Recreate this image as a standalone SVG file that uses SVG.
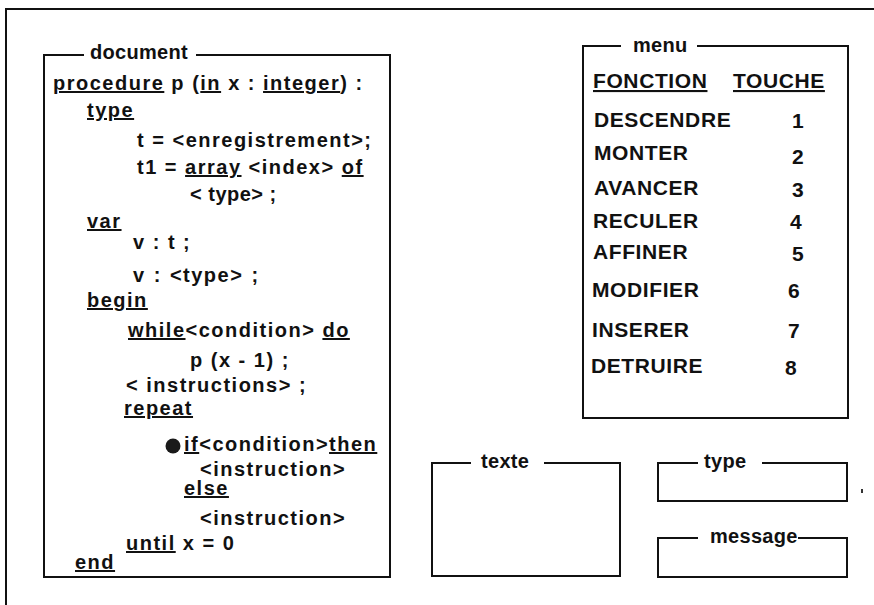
<svg xmlns="http://www.w3.org/2000/svg" width="874" height="605" viewBox="0 0 874 605">
  <style>
    text { font-family: "Liberation Sans", Arial, sans-serif; font-weight: bold; fill: #111; }
    .code { font-size: 20px; letter-spacing: 1.5px; }
    .title { font-size: 20px; letter-spacing: 0.3px; }
    .menu { font-size: 21px; letter-spacing: 0.6px; }
    .u { text-decoration: underline; text-decoration-thickness: 2px; text-underline-offset: 4px; }
    .edge { fill: none; stroke: #111; stroke-width: 2; stroke-linecap: square; stroke-linejoin: miter; }
  </style>

  <rect width="874" height="605" fill="#fff"/>

  <!-- outer screen frame (only top and left edges are in view) -->
  <g id="frame">
    <path class="edge" d="M6 605 V9 H874"/>
    <rect x="861" y="489" width="2" height="4" fill="#333"/>
  </g>

  <!-- document window -->
  <g id="document">
    <path class="edge" d="M83 55 H44 V577 H390 V55 H197"/>
    <text class="title" x="90" y="59">document</text>

    <text class="code" x="53" y="90"><tspan class="u">procedure</tspan> p (<tspan class="u">in</tspan> x : <tspan class="u">integer</tspan>) :</text>
    <text class="code" x="87" y="117"><tspan class="u">type</tspan></text>
    <text class="code" x="137" y="147">t = &lt;enregistrement&gt;;</text>
    <text class="code" x="137" y="174">t1 = <tspan class="u">array</tspan> &lt;index&gt; <tspan class="u">of</tspan></text>
    <text class="code" x="190" y="201" style="letter-spacing:0.5px">&lt; type&gt; ;</text>
    <text class="code" x="87" y="228"><tspan class="u">var</tspan></text>
    <text class="code" x="133" y="249">v : t ;</text>
    <text class="code" x="133" y="282" word-spacing="1">v : &lt;type&gt; ;</text>
    <text class="code" x="87" y="307"><tspan class="u">begin</tspan></text>
    <text class="code" x="128" y="337"><tspan class="u">while</tspan>&lt;condition&gt; <tspan class="u">do</tspan></text>
    <text class="code" x="190" y="367">p (x - 1) ;</text>
    <text class="code" x="126" y="392">&lt; instructions&gt; ;</text>
    <text class="code" x="124" y="415"><tspan class="u">repeat</tspan></text>
    <circle cx="173" cy="446" r="7.5" fill="#1a1a1a"/>
    <text class="code" x="184" y="451"><tspan class="u">if</tspan>&lt;condition&gt;<tspan class="u">then</tspan></text>
    <text class="code" x="200" y="476">&lt;instruction&gt;</text>
    <text class="code" x="184" y="495"><tspan class="u">else</tspan></text>
    <text class="code" x="200" y="525">&lt;instruction&gt;</text>
    <text class="code" x="126" y="550"><tspan class="u">until</tspan> x = 0</text>
    <text class="code" x="75" y="569"><tspan class="u">end</tspan></text>
  </g>

  <!-- menu window -->
  <g id="menu">
    <path class="edge" d="M620 46 H583 V418 H848 V46 H698"/>
    <text class="title" x="633" y="52">menu</text>
    <text class="menu u" x="593" y="88">FONCTION</text>
    <text class="menu u" x="733" y="88">TOUCHE</text>
    <text class="menu" x="594" y="127">DESCENDRE</text>
    <text class="menu" x="792" y="128">1</text>
    <text class="menu" x="594" y="160">MONTER</text>
    <text class="menu" x="792" y="164">2</text>
    <text class="menu" x="594" y="195">AVANCER</text>
    <text class="menu" x="792" y="197">3</text>
    <text class="menu" x="593" y="228">RECULER</text>
    <text class="menu" x="790" y="229">4</text>
    <text class="menu" x="593" y="259">AFFINER</text>
    <text class="menu" x="792" y="261">5</text>
    <text class="menu" x="592" y="297">MODIFIER</text>
    <text class="menu" x="788" y="298">6</text>
    <text class="menu" x="592" y="337">INSERER</text>
    <text class="menu" x="788" y="338">7</text>
    <text class="menu" x="591" y="373">DETRUIRE</text>
    <text class="menu" x="785" y="375">8</text>
  </g>

  <!-- texte window -->
  <g id="texte">
    <path class="edge" d="M470 463 H432 V576 H620 V463 H545"/>
    <text class="title" x="481" y="468">texte</text>
  </g>

  <!-- type window -->
  <g id="type">
    <path class="edge" d="M697 463 H658 V501 H847 V463 H763"/>
    <text class="title" x="704" y="468">type</text>
  </g>

  <!-- message window -->
  <g id="message">
    <path class="edge" d="M697 538 H658 V577 H847 V538 H799"/>
    <text class="title" x="710" y="543">message</text>
  </g>

  <!-- no connectors between the windows -->
  <g id="connectors"/>
</svg>
